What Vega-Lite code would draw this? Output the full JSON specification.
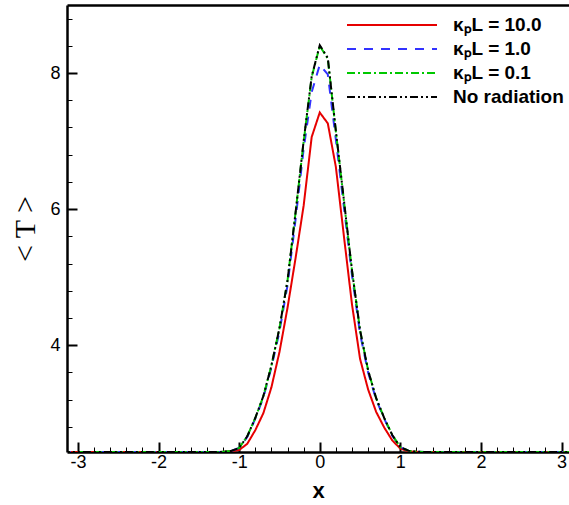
{
  "$schema": "https://vega.github.io/schema/vega-lite/v6.json",
  "width": 502,
  "height": 447,
  "autosize": {"type": "none"},
  "padding": {"left": 67, "top": 5, "right": 0, "bottom": 53},
  "background": "white",
  "config": {
    "view": {"stroke": null},
    "axis": {"grid": false, "labelFont": "Liberation Sans", "labelFontSize": 18, "labelColor": "black", "tickColor": "black", "domainColor": "black"}
  },
  "data": {"values": [
    {"s": "κₚL = 10.0", "x": -3.2, "T": 2.43},
    {"s": "κₚL = 10.0", "x": -1.3, "T": 2.43},
    {"s": "κₚL = 10.0", "x": -1.2, "T": 2.432},
    {"s": "κₚL = 10.0", "x": -1.1, "T": 2.44},
    {"s": "κₚL = 10.0", "x": -1.0, "T": 2.46},
    {"s": "κₚL = 10.0", "x": -0.9, "T": 2.55},
    {"s": "κₚL = 10.0", "x": -0.8, "T": 2.75},
    {"s": "κₚL = 10.0", "x": -0.7, "T": 3.0},
    {"s": "κₚL = 10.0", "x": -0.6, "T": 3.38},
    {"s": "κₚL = 10.0", "x": -0.5, "T": 3.9},
    {"s": "κₚL = 10.0", "x": -0.4, "T": 4.55},
    {"s": "κₚL = 10.0", "x": -0.3, "T": 5.28},
    {"s": "κₚL = 10.0", "x": -0.2, "T": 6.05},
    {"s": "κₚL = 10.0", "x": -0.1, "T": 7.06},
    {"s": "κₚL = 10.0", "x": 0.0, "T": 7.42},
    {"s": "κₚL = 10.0", "x": 0.1, "T": 7.26},
    {"s": "κₚL = 10.0", "x": 0.2, "T": 6.62},
    {"s": "κₚL = 10.0", "x": 0.3, "T": 5.6},
    {"s": "κₚL = 10.0", "x": 0.4, "T": 4.6},
    {"s": "κₚL = 10.0", "x": 0.5, "T": 3.8},
    {"s": "κₚL = 10.0", "x": 0.6, "T": 3.35},
    {"s": "κₚL = 10.0", "x": 0.7, "T": 3.02},
    {"s": "κₚL = 10.0", "x": 0.8, "T": 2.79},
    {"s": "κₚL = 10.0", "x": 0.9, "T": 2.6},
    {"s": "κₚL = 10.0", "x": 1.0, "T": 2.48},
    {"s": "κₚL = 10.0", "x": 1.1, "T": 2.44},
    {"s": "κₚL = 10.0", "x": 1.2, "T": 2.432},
    {"s": "κₚL = 10.0", "x": 1.3, "T": 2.43},
    {"s": "κₚL = 10.0", "x": 3.2, "T": 2.43},

    {"s": "κₚL = 1.0", "x": -3.2, "T": 2.43},
    {"s": "κₚL = 1.0", "x": -1.3, "T": 2.43},
    {"s": "κₚL = 1.0", "x": -1.2, "T": 2.433},
    {"s": "κₚL = 1.0", "x": -1.1, "T": 2.445},
    {"s": "κₚL = 1.0", "x": -1.0, "T": 2.49},
    {"s": "κₚL = 1.0", "x": -0.9, "T": 2.65},
    {"s": "κₚL = 1.0", "x": -0.8, "T": 2.92},
    {"s": "κₚL = 1.0", "x": -0.7, "T": 3.23},
    {"s": "κₚL = 1.0", "x": -0.6, "T": 3.67},
    {"s": "κₚL = 1.0", "x": -0.5, "T": 4.2},
    {"s": "κₚL = 1.0", "x": -0.4, "T": 4.88},
    {"s": "κₚL = 1.0", "x": -0.3, "T": 5.85},
    {"s": "κₚL = 1.0", "x": -0.2, "T": 6.88},
    {"s": "κₚL = 1.0", "x": -0.1, "T": 7.72},
    {"s": "κₚL = 1.0", "x": 0.0, "T": 8.12},
    {"s": "κₚL = 1.0", "x": 0.1, "T": 7.98},
    {"s": "κₚL = 1.0", "x": 0.2, "T": 7.02},
    {"s": "κₚL = 1.0", "x": 0.3, "T": 6.03},
    {"s": "κₚL = 1.0", "x": 0.4, "T": 5.03},
    {"s": "κₚL = 1.0", "x": 0.5, "T": 4.17},
    {"s": "κₚL = 1.0", "x": 0.6, "T": 3.6},
    {"s": "κₚL = 1.0", "x": 0.7, "T": 3.2},
    {"s": "κₚL = 1.0", "x": 0.8, "T": 2.92},
    {"s": "κₚL = 1.0", "x": 0.9, "T": 2.67},
    {"s": "κₚL = 1.0", "x": 1.0, "T": 2.5},
    {"s": "κₚL = 1.0", "x": 1.1, "T": 2.45},
    {"s": "κₚL = 1.0", "x": 1.2, "T": 2.435},
    {"s": "κₚL = 1.0", "x": 1.3, "T": 2.43},
    {"s": "κₚL = 1.0", "x": 3.2, "T": 2.43},

    {"s": "κₚL = 0.1", "x": -3.2, "T": 2.43},
    {"s": "κₚL = 0.1", "x": -1.3, "T": 2.43},
    {"s": "κₚL = 0.1", "x": -1.2, "T": 2.433},
    {"s": "κₚL = 0.1", "x": -1.1, "T": 2.445},
    {"s": "κₚL = 0.1", "x": -1.0, "T": 2.49},
    {"s": "κₚL = 0.1", "x": -0.9, "T": 2.66},
    {"s": "κₚL = 0.1", "x": -0.8, "T": 2.93},
    {"s": "κₚL = 0.1", "x": -0.7, "T": 3.25},
    {"s": "κₚL = 0.1", "x": -0.6, "T": 3.7},
    {"s": "κₚL = 0.1", "x": -0.5, "T": 4.25},
    {"s": "κₚL = 0.1", "x": -0.4, "T": 4.95},
    {"s": "κₚL = 0.1", "x": -0.3, "T": 5.95},
    {"s": "κₚL = 0.1", "x": -0.2, "T": 6.99},
    {"s": "κₚL = 0.1", "x": -0.1, "T": 7.94},
    {"s": "κₚL = 0.1", "x": 0.0, "T": 8.4},
    {"s": "κₚL = 0.1", "x": 0.1, "T": 8.21},
    {"s": "κₚL = 0.1", "x": 0.2, "T": 7.14},
    {"s": "κₚL = 0.1", "x": 0.3, "T": 6.12},
    {"s": "κₚL = 0.1", "x": 0.4, "T": 5.1},
    {"s": "κₚL = 0.1", "x": 0.5, "T": 4.22},
    {"s": "κₚL = 0.1", "x": 0.6, "T": 3.63},
    {"s": "κₚL = 0.1", "x": 0.7, "T": 3.22},
    {"s": "κₚL = 0.1", "x": 0.8, "T": 2.93},
    {"s": "κₚL = 0.1", "x": 0.9, "T": 2.68},
    {"s": "κₚL = 0.1", "x": 1.0, "T": 2.5},
    {"s": "κₚL = 0.1", "x": 1.1, "T": 2.45},
    {"s": "κₚL = 0.1", "x": 1.2, "T": 2.435},
    {"s": "κₚL = 0.1", "x": 1.3, "T": 2.43},
    {"s": "κₚL = 0.1", "x": 3.2, "T": 2.43},

    {"s": "No radiation", "x": -3.2, "T": 2.43},
    {"s": "No radiation", "x": -1.3, "T": 2.43},
    {"s": "No radiation", "x": -1.2, "T": 2.433},
    {"s": "No radiation", "x": -1.1, "T": 2.445},
    {"s": "No radiation", "x": -1.0, "T": 2.49},
    {"s": "No radiation", "x": -0.9, "T": 2.66},
    {"s": "No radiation", "x": -0.8, "T": 2.93},
    {"s": "No radiation", "x": -0.7, "T": 3.25},
    {"s": "No radiation", "x": -0.6, "T": 3.7},
    {"s": "No radiation", "x": -0.5, "T": 4.25},
    {"s": "No radiation", "x": -0.4, "T": 4.95},
    {"s": "No radiation", "x": -0.3, "T": 5.95},
    {"s": "No radiation", "x": -0.2, "T": 7.0},
    {"s": "No radiation", "x": -0.1, "T": 7.95},
    {"s": "No radiation", "x": 0.0, "T": 8.41},
    {"s": "No radiation", "x": 0.1, "T": 8.22},
    {"s": "No radiation", "x": 0.2, "T": 7.15},
    {"s": "No radiation", "x": 0.3, "T": 6.13},
    {"s": "No radiation", "x": 0.4, "T": 5.1},
    {"s": "No radiation", "x": 0.5, "T": 4.22},
    {"s": "No radiation", "x": 0.6, "T": 3.63},
    {"s": "No radiation", "x": 0.7, "T": 3.22},
    {"s": "No radiation", "x": 0.8, "T": 2.93},
    {"s": "No radiation", "x": 0.9, "T": 2.68},
    {"s": "No radiation", "x": 1.0, "T": 2.5},
    {"s": "No radiation", "x": 1.1, "T": 2.45},
    {"s": "No radiation", "x": 1.2, "T": 2.435},
    {"s": "No radiation", "x": 1.3, "T": 2.43},
    {"s": "No radiation", "x": 3.2, "T": 2.43}
  ]},
  "layer": [
    {
      "mark": {"type": "line", "strokeWidth": 2, "clip": true},
      "encoding": {
        "x": {"field": "x", "type": "quantitative",
          "scale": {"domain": [-3.1365, 3.093], "nice": false, "zero": false},
          "axis": {"values": [-3, -2, -1, 0, 1, 2, 3], "tickSize": -10, "tickWidth": 2, "domainWidth": 2.5, "labelPadding": 11,
            "labelExpr": "toString(datum.value)",
            "title": "x", "titleFont": "Liberation Sans", "titleFontSize": 22, "titleFontWeight": "bold", "titleColor": "black",
            "titleY": 45, "titleBaseline": "alphabetic"}},
        "y": {"field": "T", "type": "quantitative",
          "scale": {"domain": [2.43, 9.0], "nice": false, "zero": false},
          "axis": {"values": [4, 6, 8], "tickSize": -10, "tickWidth": 2, "domainWidth": 2.5, "labelPadding": 17,
            "labelExpr": "toString(datum.value)",
            "title": "< T >", "titleFont": "Liberation Serif", "titleFontSize": 30, "titleFontWeight": "normal", "titleColor": "black",
            "titleX": -42, "titleY": 223.5, "titleBaseline": "middle", "titleAngle": -90, "titleAlign": "center"}},
        "color": {"field": "s", "type": "nominal",
          "scale": {"domain": ["κₚL = 10.0", "κₚL = 1.0", "κₚL = 0.1", "No radiation"], "range": ["#e60000", "#3232ff", "#00c800", "#000000"]},
          "legend": {"orient": "none", "legendX": 314, "legendY": 9, "title": null, "symbolType": "M-4.5,0H4.5", "symbolSize": 400, "symbolStrokeWidth": 2,
            "labelFont": "Liberation Sans", "labelFontSize": 19, "labelFontWeight": "bold", "labelColor": "black", "labelOffset": 50, "rowPadding": 3, "padding": 0}},
        "strokeDash": {"field": "s", "type": "nominal",
          "scale": {"domain": ["κₚL = 10.0", "κₚL = 1.0", "κₚL = 0.1", "No radiation"], "range": [[1, 0], [9, 8], [8, 3, 2, 3], [8, 3, 2, 3, 2, 3]]},
          "legend": {"orient": "none", "legendX": 314, "legendY": 9, "title": null, "symbolType": "M-4.5,0H4.5", "symbolSize": 400, "symbolStrokeWidth": 2,
            "labelFont": "Liberation Sans", "labelFontSize": 19, "labelFontWeight": "bold", "labelColor": "black", "labelOffset": 50, "rowPadding": 3, "padding": 0}}
      }
    },
    {
      "mark": {"type": "point", "opacity": 0},
      "encoding": {
        "x": {"field": "x", "type": "quantitative",
          "axis": {"orient": "bottom", "values": [-2.8, -2.6, -2.4, -2.2, -1.8, -1.6, -1.4, -1.2, -0.8, -0.6, -0.4, -0.2, 0.2, 0.4, 0.6, 0.8, 1.2, 1.4, 1.6, 1.8, 2.2, 2.4, 2.6, 2.8],
            "tickSize": -5, "tickWidth": 1, "labels": false, "domain": false, "title": null}},
        "y": {"field": "T", "type": "quantitative",
          "axis": {"orient": "left", "values": [2.8, 3.2, 3.6, 4.4, 4.8, 5.2, 5.6, 6.4, 6.8, 7.2, 7.6, 8.4, 8.8],
            "tickSize": -5, "tickWidth": 1, "labels": false, "domain": false, "title": null}}
      }
    },
    {
      "mark": {"type": "point", "opacity": 0},
      "encoding": {
        "x": {"field": "x", "type": "quantitative",
          "axis": {"orient": "top", "ticks": false, "labels": false, "domainWidth": 2.5, "title": null}},
        "y": {"field": "T", "type": "quantitative", "axis": null}
      }
    }
  ],
  "resolve": {"axis": {"x": "independent", "y": "independent"}}
}
